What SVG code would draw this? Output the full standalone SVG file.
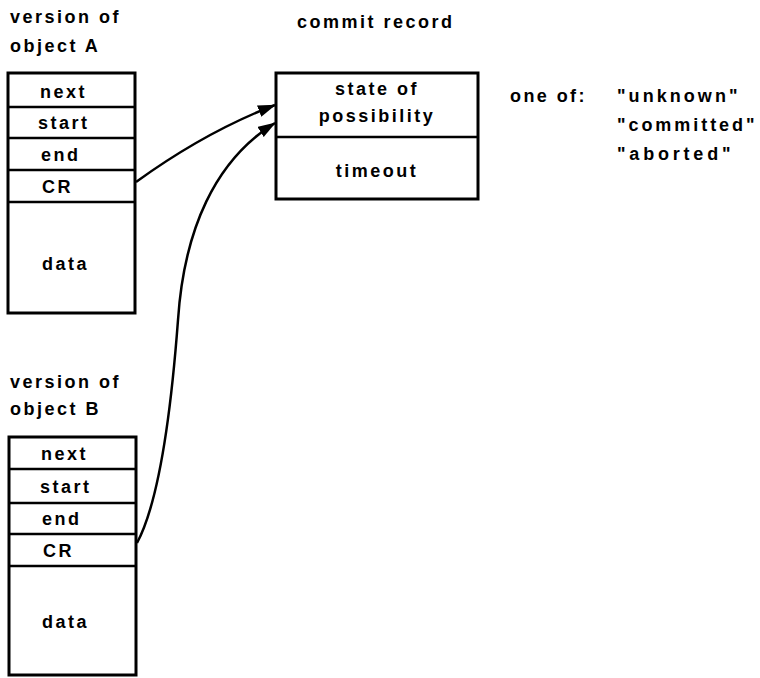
<svg xmlns="http://www.w3.org/2000/svg" width="760" height="678" viewBox="0 0 760 678">
<style>
text{font-family:"Liberation Sans",Arial,sans-serif;font-weight:bold;font-size:18px;letter-spacing:2.5px;fill:#000}
.box{fill:#fff;stroke:#000;stroke-width:3}
.div{stroke:#000;stroke-width:2.5}
.mid{text-anchor:middle}
.conn{fill:none;stroke:#000;stroke-width:2.5}
</style>
<defs>
<marker id="ah" viewBox="0 0 18 12" refX="17" refY="6" markerWidth="18" markerHeight="12" markerUnits="userSpaceOnUse" orient="auto">
<path d="M0,0 L18,6 L0,12 Z" fill="#000"/>
</marker>
</defs>
<g id="objA">
<text x="10" y="23">version of</text>
<text x="10" y="52">object A</text>
<rect class="box" x="8" y="73" width="127" height="240"/>
<line class="div" x1="8" y1="107" x2="135" y2="107"/>
<line class="div" x1="8" y1="138" x2="135" y2="138"/>
<line class="div" x1="8" y1="170" x2="135" y2="170"/>
<line class="div" x1="8" y1="202" x2="135" y2="202"/>
<text x="40" y="98">next</text>
<text x="38" y="129">start</text>
<text x="41" y="161">end</text>
<text x="42" y="193">CR</text>
<text x="42" y="270">data</text>
</g>
<g id="objB">
<text x="10" y="388">version of</text>
<text x="10" y="415">object B</text>
<rect class="box" x="9" y="437" width="127" height="238"/>
<line class="div" x1="9" y1="469" x2="136" y2="469"/>
<line class="div" x1="9" y1="503" x2="136" y2="503"/>
<line class="div" x1="9" y1="534" x2="136" y2="534"/>
<line class="div" x1="9" y1="566" x2="136" y2="566"/>
<text x="41" y="460">next</text>
<text x="40" y="493">start</text>
<text x="42" y="525">end</text>
<text x="43" y="557">CR</text>
<text x="42" y="628">data</text>
</g>
<g id="commit">
<text x="297" y="28">commit record</text>
<rect class="box" x="276" y="73" width="202" height="126"/>
<line class="div" x1="276" y1="137" x2="478" y2="137"/>
<text class="mid" x="377" y="95">state of</text>
<text class="mid" x="377" y="122">possibility</text>
<text class="mid" x="377" y="177">timeout</text>
</g>
<g id="values">
<text x="510" y="102" textLength="77">one of:</text>
<text x="617" y="102" textLength="123">"unknown"</text>
<text x="617" y="131" textLength="140">"committed"</text>
<text x="617" y="160" textLength="116">"aborted"</text>
</g>
<g id="connectors">
<path class="conn" d="M136,182 Q205,132 275,105" marker-end="url(#ah)"/>
<path class="conn" d="M137,543 C160,500 172,400 178,320 C184,230 215,160 275,123" marker-end="url(#ah)"/>
</g>
</svg>
